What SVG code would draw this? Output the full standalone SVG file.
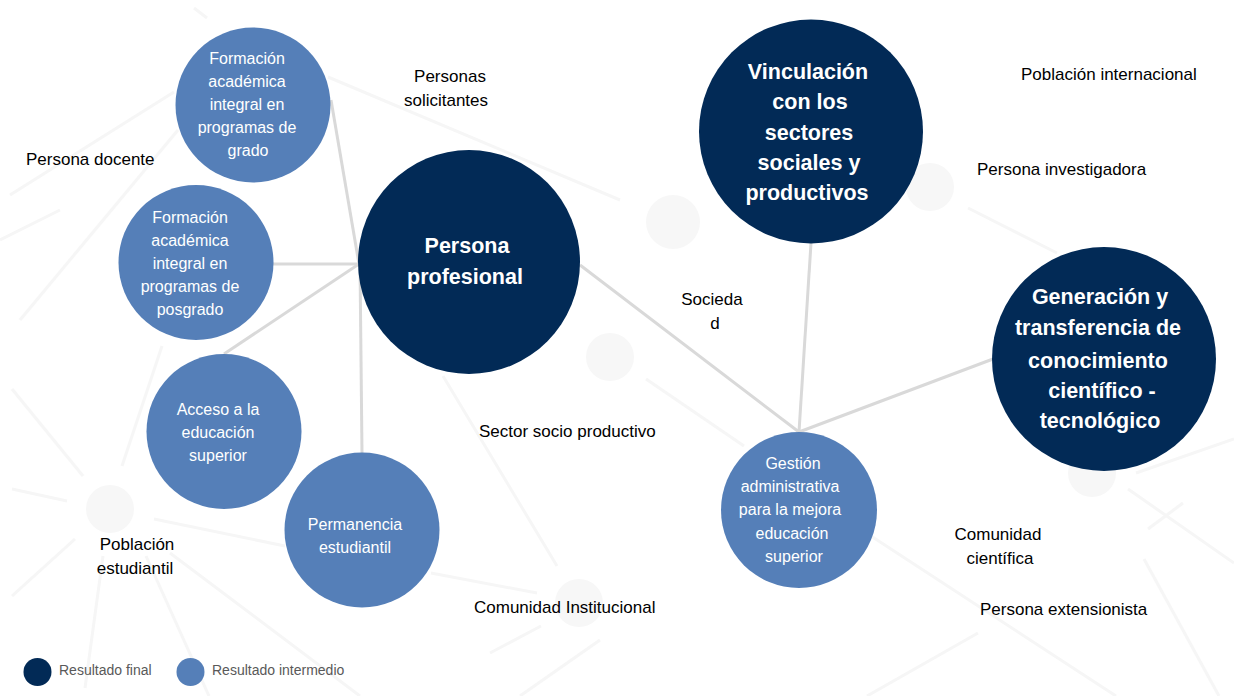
<svg xmlns="http://www.w3.org/2000/svg" width="1234" height="696" viewBox="0 0 1234 696">
<style>
.bgl{stroke:#f6f6f6;stroke-width:3;fill:none}
.bgc{fill:#f7f7f7}
.con{stroke:#d9d9d9;stroke-width:3;fill:none}
.fin{fill:#022a56}
.mid{fill:#557fb8}
.tf{font-family:"Liberation Sans",Arial,sans-serif;font-size:21.5px;font-weight:bold;fill:#fff;text-anchor:middle}
.tm{font-family:"Liberation Sans",Arial,sans-serif;font-size:16px;fill:#fff;text-anchor:middle}
.lb{font-family:"Liberation Sans",Arial,sans-serif;font-size:17px;fill:#000}
.lg{font-family:"Liberation Sans",Arial,sans-serif;font-size:14px;fill:#595959}
</style>
<rect width="1234" height="696" fill="#fff"/>
<g id="background">
<line class="bgl" x1="194" y1="8" x2="207" y2="18"/>
<line class="bgl" x1="10" y1="195" x2="174" y2="92"/>
<line class="bgl" x1="328" y1="77" x2="620" y2="200"/>
<line class="bgl" x1="20" y1="320" x2="178" y2="130"/>
<line class="bgl" x1="968" y1="208" x2="1057" y2="253"/>
<line class="bgl" x1="646" y1="379" x2="744" y2="446"/>
<line class="bgl" x1="871" y1="536" x2="1116" y2="696"/>
<line class="bgl" x1="978" y1="633" x2="867" y2="696"/>
<line class="bgl" x1="1128" y1="489" x2="1234" y2="563"/>
<line class="bgl" x1="1144" y1="559" x2="1219" y2="696"/>
<line class="bgl" x1="1136" y1="473" x2="1234" y2="439"/>
<line class="bgl" x1="1148" y1="529" x2="1183" y2="503"/>
<line class="bgl" x1="12" y1="389" x2="83" y2="476"/>
<line class="bgl" x1="122" y1="466" x2="162" y2="346"/>
<line class="bgl" x1="12" y1="489" x2="67" y2="501"/>
<line class="bgl" x1="154" y1="519" x2="285" y2="546"/>
<line class="bgl" x1="75" y1="539" x2="12" y2="596"/>
<line class="bgl" x1="103" y1="556" x2="85" y2="688"/>
<line class="bgl" x1="146" y1="556" x2="209" y2="696"/>
<line class="bgl" x1="170" y1="553" x2="360" y2="696"/>
<line class="bgl" x1="431" y1="573" x2="537" y2="593"/>
<line class="bgl" x1="443" y1="376" x2="557" y2="566"/>
<line class="bgl" x1="541" y1="626" x2="490" y2="653"/>
<line class="bgl" x1="600" y1="640" x2="520" y2="696"/>
<line class="bgl" x1="0" y1="240" x2="60" y2="210"/>
<circle class="bgc" cx="673" cy="222" r="27"/>
<circle class="bgc" cx="930" cy="187" r="24"/>
<circle class="bgc" cx="610" cy="357" r="24"/>
<circle class="bgc" cx="110" cy="509" r="24"/>
<circle class="bgc" cx="579" cy="603" r="24"/>
<circle class="bgc" cx="1092" cy="473" r="24"/>
</g>
<g id="connectors">
<line class="con" x1="331" y1="100" x2="359" y2="264"/>
<line class="con" x1="273" y1="264" x2="359" y2="264"/>
<line class="con" x1="224" y1="354" x2="359" y2="264"/>
<line class="con" x1="360" y1="264" x2="362" y2="453"/>
<line class="con" x1="580" y1="265" x2="799" y2="432"/>
<line class="con" x1="811" y1="243" x2="799" y2="432"/>
<line class="con" x1="993" y1="359" x2="799" y2="432"/>
</g>
<g id="node-grado">
<circle class="mid" cx="253" cy="105" r="77.5"/>
<text class="tm"><tspan x="247" y="64">Formación</tspan><tspan x="247" y="87">académica</tspan><tspan x="247" y="110">integral en</tspan><tspan x="247" y="133">programas de</tspan><tspan x="248" y="156">grado</tspan></text>
</g>
<g id="node-posgrado">
<circle class="mid" cx="196" cy="262.5" r="77.5"/>
<text class="tm"><tspan x="190" y="223">Formación</tspan><tspan x="190" y="246">académica</tspan><tspan x="190" y="269">integral en</tspan><tspan x="190" y="292">programas de</tspan><tspan x="190" y="315">posgrado</tspan></text>
</g>
<g id="node-acceso">
<circle class="mid" cx="224" cy="431.5" r="77.5"/>
<text class="tm"><tspan x="218" y="415">Acceso a la</tspan><tspan x="218" y="438">educación</tspan><tspan x="218" y="461">superior</tspan></text>
</g>
<g id="node-permanencia">
<circle class="mid" cx="362" cy="530" r="77.5"/>
<text class="tm"><tspan x="355" y="530">Permanencia</tspan><tspan x="355" y="553">estudiantil</tspan></text>
</g>
<g id="node-gestion">
<circle class="mid" cx="799" cy="510" r="78"/>
<text class="tm"><tspan x="793" y="469">Gestión</tspan><tspan x="790" y="492">administrativa</tspan><tspan x="790" y="515">para la mejora</tspan><tspan x="792" y="539">educación</tspan><tspan x="794" y="562">superior</tspan></text>
</g>
<g id="node-profesional">
<ellipse class="fin" cx="469" cy="262" rx="111" ry="112"/>
<text class="tf"><tspan x="467" y="253">Persona</tspan><tspan x="465" y="284">profesional</tspan></text>
</g>
<g id="node-vinculacion">
<circle class="fin" cx="811" cy="131.5" r="112"/>
<text class="tf"><tspan x="808" y="79">Vinculación</tspan><tspan x="810" y="109">con los</tspan><tspan x="809" y="140">sectores</tspan><tspan x="809" y="170">sociales y</tspan><tspan x="807" y="200">productivos</tspan></text>
</g>
<g id="node-generacion">
<circle class="fin" cx="1104" cy="359" r="112"/>
<text class="tf"><tspan x="1100" y="304">Generación y</tspan><tspan x="1098" y="335">transferencia de</tspan><tspan x="1098" y="368">conocimiento</tspan><tspan x="1102" y="398">científico -</tspan><tspan x="1100" y="428">tecnológico</tspan></text>
</g>
<g id="labels">
<text class="lb" x="450" y="82" text-anchor="middle">Personas</text>
<text class="lb" x="446" y="106" text-anchor="middle">solicitantes</text>
<text class="lb" x="26" y="165">Persona docente</text>
<text class="lb" x="1021" y="80">Población internacional</text>
<text class="lb" x="977" y="175">Persona investigadora</text>
<text class="lb" x="712" y="305" text-anchor="middle">Socieda</text>
<text class="lb" x="715" y="329" text-anchor="middle">d</text>
<text class="lb" x="479" y="437">Sector socio productivo</text>
<text class="lb" x="474" y="613">Comunidad Institucional</text>
<text class="lb" x="137" y="550" text-anchor="middle">Población</text>
<text class="lb" x="135" y="574" text-anchor="middle">estudiantil</text>
<text class="lb" x="998" y="540" text-anchor="middle">Comunidad</text>
<text class="lb" x="1000" y="564" text-anchor="middle">científica</text>
<text class="lb" x="980" y="615">Persona extensionista</text>
</g>
<g id="legend">
<ellipse class="fin" cx="37.5" cy="672" rx="14" ry="14"/>
<text class="lg" x="59" y="675">Resultado final</text>
<ellipse class="mid" cx="190.5" cy="672" rx="14" ry="14"/>
<text class="lg" x="212" y="675">Resultado intermedio</text>
</g>
</svg>
